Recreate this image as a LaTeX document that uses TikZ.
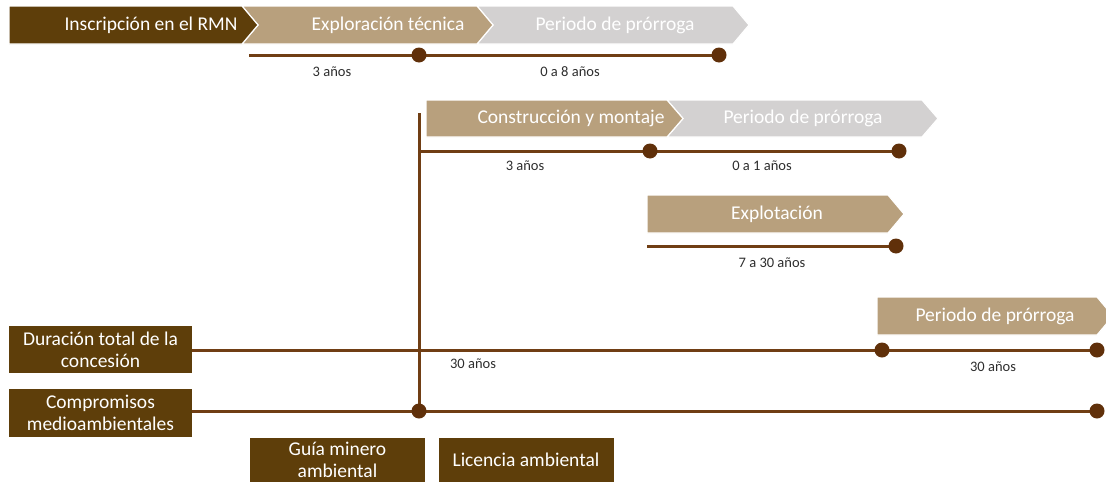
\documentclass[tikz,border=0pt]{standalone}
\usepackage{fontspec}
\setmainfont{Carlito}
\usepackage{tikz}

\definecolor{darkbrown}{RGB}{94,62,10}
\definecolor{tan}{RGB}{184,160,125}
\definecolor{lightgray}{RGB}{211,209,209}
\definecolor{linebrown}{RGB}{112,62,20}
\definecolor{dotbrown}{RGB}{96,48,10}
\definecolor{labelgray}{RGB}{45,45,45}

\tikzset{
  stage/.style={text=white, inner sep=0pt, font=\fontsize{19.5}{22}\selectfont},
  span/.style={text=labelgray, inner sep=0pt, font=\fontsize{14.5}{17}\selectfont},
  tag/.style={fill=darkbrown, text=white, align=center, inner sep=0pt,
    font=\fontsize{19.5}{22}\selectfont},
  timeline/.style={draw=linebrown, line width=3pt},
  milestone/.style={circle, fill=dotbrown, inner sep=0pt, minimum size=15pt},
  arrowshape/.style={draw=white, line width=1.2pt},
}

\begin{document}
\begin{tikzpicture}[x=1pt,y=-1pt]
				\useasboundingbox (0,0) rectangle (1106,482);
				% fila 1: inscripcion, exploracion, prorroga
				\path[arrowshape, fill=lightgray] (477,6) -- (733,6) -- (749,25) -- (733,44) -- (477,44) -- (493,25) -- cycle;
				\path[arrowshape, fill=tan] (242,6) -- (477,6) -- (493,25) -- (477,44) -- (242,44) -- (258,25) -- cycle;
				\path[arrowshape, fill=darkbrown] (9,6) -- (242,6) -- (258,25) -- (242,44) -- (9,44) -- cycle;
				\node[stage] (inscripcion) at (151,25) {Inscripción en el RMN};
				\node[stage] (exploracion) at (388,25) {Exploración técnica};
				\node[stage] (prorrogaA) at (615,25) {Periodo de prórroga};
				% fila 2: construccion y prorroga
				\path[arrowshape, fill=lightgray] (667,100) -- (922,100) -- (938,118.5) -- (922,137) -- (667,137) -- (683,118.5) -- cycle;
				\path[arrowshape, fill=tan] (426,100) -- (667,100) -- (683,118.5) -- (667,137) -- (426,137) -- cycle;
				\node[stage] (construccion) at (571,118.5) {Construcción y montaje};
				\node[stage] (prorrogaB) at (803,118.5) {Periodo de prórroga};
				% fila 3: explotacion
				\path[arrowshape, fill=tan] (647,195) -- (888,195) -- (904,214) -- (888,233) -- (647,233) -- cycle;
				\node[stage] (explotacion) at (777,214) {Explotación};
				% fila 4: prorroga final
				\path[arrowshape, fill=tan] (877,297) -- (1097,297) -- (1113,316) -- (1097,335) -- (877,335) -- cycle;
				\node[stage] (prorrogaC) at (995,316) {Periodo de prórroga};
				% cajas de la izquierda y abajo
				\node[tag, minimum width=183pt, minimum height=47pt] (duracion) at (100.5,349.5) {Duración total de la\\concesión};
				\node[tag, minimum width=183pt, minimum height=48pt] (compromisos) at (100.5,413) {Compromisos\\medioambientales};
				\node[tag, minimum width=175pt, minimum height=44pt] (guia) at (337.5,460) {Guía minero\\ambiental};
				\node[tag, minimum width=175pt, minimum height=44pt] (licencia) at (526,460) {Licencia ambiental};
				% puntos de las lineas de tiempo
				\coordinate (T1) at (249,55);
				\coordinate (M1) at (419,55);
				\coordinate (E1) at (719,55);
				\coordinate (V0) at (419,113);
				\coordinate (T2) at (419,151);
				\coordinate (M2) at (650,151);
				\coordinate (E2) at (899,151);
				\coordinate (T3) at (647,246);
				\coordinate (E3) at (896,246);
				\coordinate (M4) at (882,350);
				\coordinate (E4) at (1097,350);
				\coordinate (V5) at (419,411);
				\coordinate (E5) at (1097,411);
				\draw[timeline] (T1) -- (E1);
				\draw[timeline] (V0) -- (V5);
				\draw[timeline] (T2) -- (E2);
				\draw[timeline] (T3) -- (E3);
				\draw[timeline] (duracion.east |- E4) -- (E4);
				\draw[timeline] (compromisos.east |- E5) -- (E5);
				\foreach \p in {M1,E1,M2,E2,E3,M4,E4,V5,E5}
					\node[milestone] (dot\p) at (\p) {};
				% duraciones
				\node[span] (anosA) at (332,72) {3 años};
				\node[span] (anosB) at (570,72) {0 a 8 años};
				\node[span] (anosC) at (525,166) {3 años};
				\node[span] (anosD) at (762,166) {0 a 1 años};
				\node[span] (anosE) at (772,263) {7 a 30 años};
				\node[span] (anosF) at (473,364) {30 años};
				\node[span] (anosG) at (993,367) {30 años};
\end{tikzpicture}
\end{document}
